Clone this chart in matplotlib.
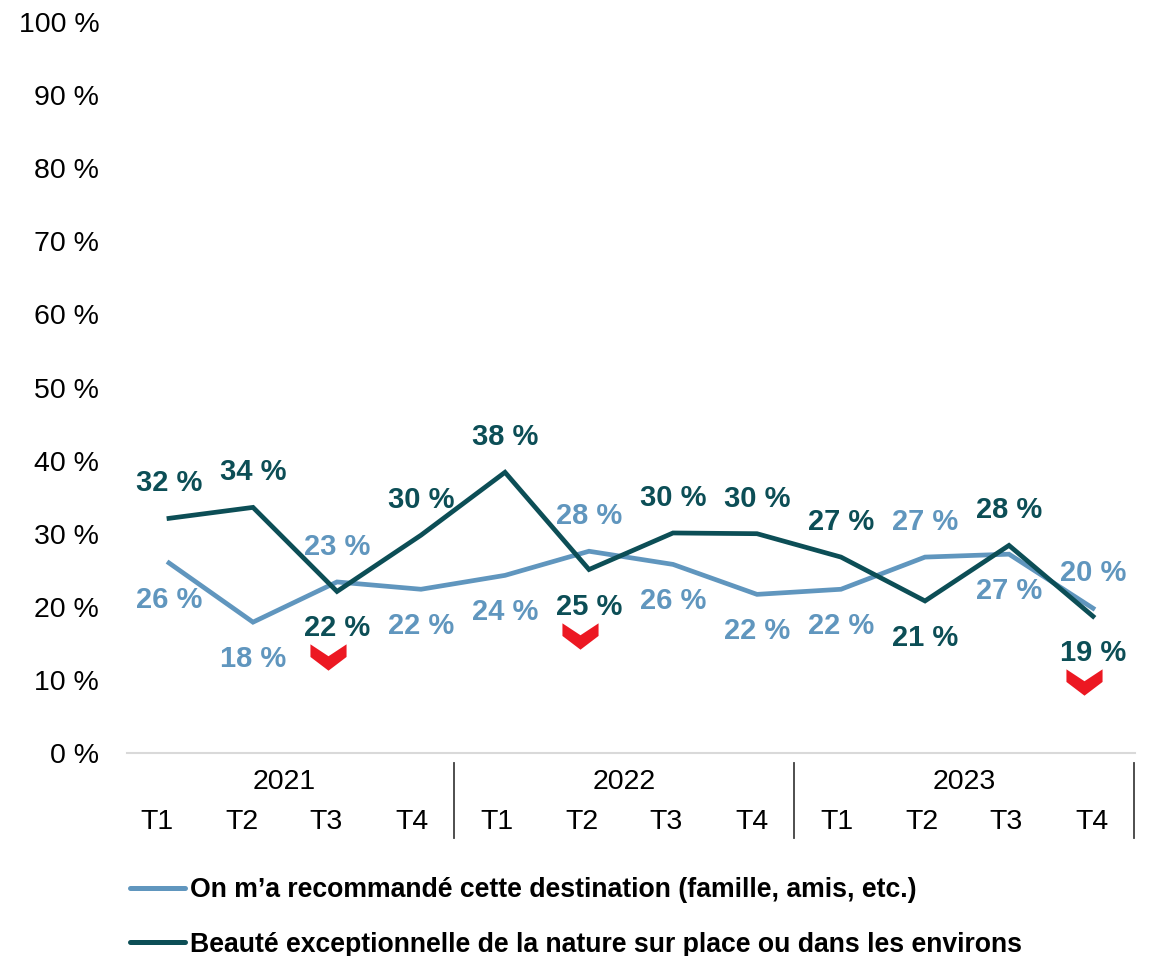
import numpy as np
import matplotlib.pyplot as plt
from matplotlib.path import Path
from matplotlib.lines import Line2D
from matplotlib import transforms

plt.rcParams['font.family'] = ['Liberation Sans', 'DejaVu Sans']

years = ['2021', '2022', '2023']
quarters = ['T1', 'T2', 'T3', 'T4']

recommended = [26.0, 17.9, 23.4, 22.4, 24.3, 27.6, 25.8, 21.7, 22.4, 26.8, 27.2, 19.8]
nature = [32.1, 33.6, 22.1, 29.8, 38.4, 25.1, 30.1, 30.0, 26.8, 20.8, 28.4, 18.7]

# quarters where the nature share dropped sharply
drops = [2, 5, 11]

series_names = ["On m\u2019a recommandé cette destination (famille, amis, etc.)",
                "Beauté exceptionnelle de la nature sur place ou dans les environs"]

light_col = '#6096BE'
dark_col = '#0C4E56'
red_col = '#EC1822'

rec_pos = ['below', 'below', 'above', 'below', 'below', 'above',
           'below', 'below', 'below', 'above', 'below', 'above']
nat_pos = ['above', 'above', 'below', 'above', 'above', 'below',
           'above', 'above', 'above', 'below', 'above', 'below']

W, H = 1153, 956
fig = plt.figure(figsize=(W / 100, H / 100), dpi=100)
ax = fig.add_axes([127 / W, 1 - 753 / H, 1008 / W, 731 / H])

x = np.arange(len(recommended))
ax.plot(x, recommended, color=light_col, lw=3.4, solid_joinstyle='miter', zorder=3)
ax.plot(x, nature, color=dark_col, lw=3.4, solid_joinstyle='miter', zorder=4)

# value labels
for vals, pos, col in [(recommended, rec_pos, light_col), (nature, nat_pos, dark_col)]:
    for i, v in enumerate(vals):
        dy = 35 if pos[i] == 'above' else -37
        ax.annotate(f'{round(v)} %', (i, v), xytext=(0, dy), textcoords='offset pixels',
                    ha='center', va='center', fontsize=21, fontweight='bold', color=col,
                    zorder=5)

# red chevrons under the falling values
chevron = Path([(-1, 0.73), (-1, 0.03), (0, -0.73), (1, 0.03), (1, 0.73), (0, 0.07), (-1, 0.73)],
               [Path.MOVETO] + [Path.LINETO] * 5 + [Path.CLOSEPOLY])
shift = transforms.offset_copy(ax.transData, fig=fig, x=-9, y=-66, units='dots')
ax.plot([x[i] for i in drops], [nature[i] for i in drops], ls='none', marker=chevron,
        markersize=26, color=red_col, markeredgewidth=0, transform=shift, zorder=5)

ax.set_xlim(-0.5, 11.5)
ax.set_ylim(0, 100)
ax.set_yticks(np.arange(0, 101, 10))
ax.set_yticklabels([f'{t} %' for t in range(0, 101, 10)])
ax.tick_params(axis='y', length=0, pad=20, labelsize=20.5)
ax.set_xticks([])
for s in ['top', 'right', 'left']:
    ax.spines[s].set_visible(False)
ax.spines['bottom'].set_color('#D9D9D9')
ax.spines['bottom'].set_linewidth(1.5)

# two-level category axis, laid out on its own slightly wider band
cax = fig.add_axes([114 / W, 1 - 753 / H, 1020 / W, 731 / H])
cax.set_xlim(-0.5, 11.5)
cax.axis('off')
xt = cax.get_xaxis_transform()
for i, lab in enumerate(quarters * len(years)):
    cax.text(i, -0.0944, lab, transform=xt, ha='center', va='center', fontsize=20.5)
for j, yr in enumerate(years):
    cax.text(j * 4 + 1.5, -0.0397, yr, transform=xt, ha='center', va='center', fontsize=20.5)
    sep = j * 4 + 3.5
    cax.add_line(Line2D([sep, sep], [-0.0137, -0.1163], transform=xt, color='#404040',
                        lw=1.3, clip_on=False))

handles = [Line2D([], [], color=light_col, lw=3.6, solid_capstyle='round'),
           Line2D([], [], color=dark_col, lw=3.6, solid_capstyle='round')]
fig.legend(handles, series_names, loc='upper left', bbox_to_anchor=(130 / W, 1 - 877 / H),
           frameon=False, prop={'size': 19.2, 'weight': 'bold'}, handlelength=2.06,
           handletextpad=0.19, labelspacing=1.08, borderpad=0, borderaxespad=0)

fig.savefig('out.png', dpi=100)
